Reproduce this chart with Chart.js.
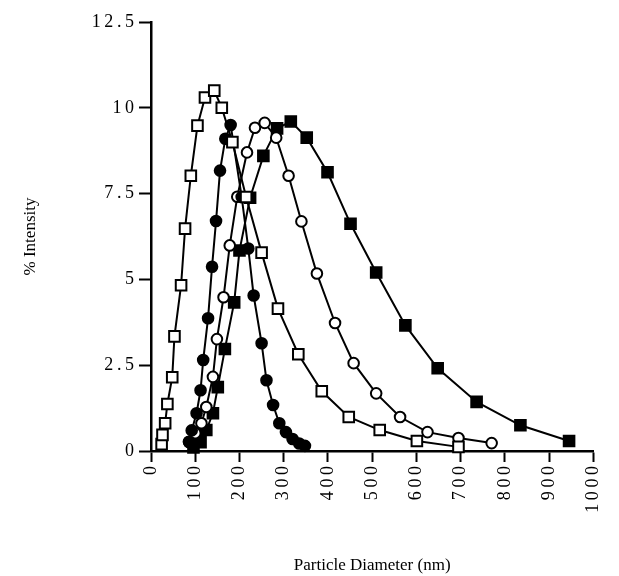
<!DOCTYPE html>
<html>
<head>
<meta charset="utf-8">
<script src="https://cdn.jsdelivr.net/npm/chart.js@4/dist/chart.umd.min.js"></script>
<style>
  html, body { margin: 0; padding: 0; background: #fff; }
  #wrap { width: 619px; height: 576px; }
</style>
</head>
<body>
<div id="wrap"><canvas id="sizeChart"></canvas></div>
<script>
// tick values
const xTicks = [0, 100, 200, 300, 400, 500, 600, 700, 800, 900, 1000];
const yTicks = [0, 2.5, 5, 7.5, 10, 12.5];

// open squares (narrowest, leftmost distribution)
const openSquareX = [24, 26, 32, 37, 48, 53, 68, 77, 90, 105, 122, 143, 160, 184, 215, 250, 287, 333, 386, 447, 517, 601, 695];
const openSquareY = [0.2, 0.47, 0.81, 1.37, 2.15, 3.34, 4.83, 6.48, 8.02, 9.48, 10.3, 10.5, 10.0, 9.0, 7.4, 5.78, 4.15, 2.82, 1.74, 0.99, 0.61, 0.29, 0.12];

// filled circles
const filledCircleX = [86, 92, 103, 112, 118, 129, 138, 147, 156, 168, 180, 205, 220, 232, 250, 261, 276, 290, 305, 320, 335, 348];
const filledCircleY = [0.27, 0.6, 1.1, 1.77, 2.65, 3.87, 5.37, 6.7, 8.17, 9.1, 9.5, 7.4, 5.9, 4.53, 3.14, 2.06, 1.34, 0.81, 0.55, 0.35, 0.22, 0.15];

// open circles
const openCircleX = [86, 100, 114, 125, 140, 149, 164, 178, 195, 217, 235, 257, 283, 311, 340, 375, 416, 458, 509, 563, 625, 695, 770];
const openCircleY = [0.26, 0.52, 0.81, 1.28, 2.16, 3.26, 4.48, 5.99, 7.41, 8.7, 9.42, 9.56, 9.13, 8.02, 6.69, 5.17, 3.73, 2.56, 1.68, 0.99, 0.55, 0.38, 0.23];

// filled squares (broadest distribution)
const filledSquareX = [96, 112, 125, 140, 151, 167, 188, 200, 224, 254, 285, 316, 352, 399, 451, 509, 575, 648, 736, 835, 945];
const filledSquareY = [0.1, 0.26, 0.61, 1.1, 1.86, 2.97, 4.33, 5.84, 7.38, 8.6, 9.4, 9.6, 9.13, 8.12, 6.62, 5.2, 3.66, 2.41, 1.43, 0.75, 0.29];

function pairs(xs, ys) {
  return xs.map((x, i) => ({ x: x, y: ys[i] }));
}

function spaced(v) {
  return String(v).split("").join("\u2009");
}

function series(xs, ys, style, fill) {
  return {
    data: pairs(xs, ys),
    borderColor: "#000",
    borderWidth: 2,
    pointStyle: style,
    pointRadius: style === "rect" ? 7.5 : 5.3,
    pointBackgroundColor: fill,
    pointBorderColor: "#000",
    pointBorderWidth: 2,
    tension: 0,
    clip: false
  };
}

const serif = "'Liberation Serif', 'DejaVu Serif', serif";

new Chart(document.getElementById("sizeChart"), {
  type: "line",
  data: {
    datasets: [
      series(openSquareX, openSquareY, "rect", "#fff"),
      series(filledCircleX, filledCircleY, "circle", "#000"),
      series(openCircleX, openCircleY, "circle", "#fff"),
      series(filledSquareX, filledSquareY, "rect", "#000")
    ]
  },
  options: {
    responsive: true,
    maintainAspectRatio: false,
    animation: false,
    layout: { padding: { left: 0, right: 13, top: 22, bottom: 0 } },
    plugins: {
      legend: { display: false },
      tooltip: { enabled: false }
    },
    scales: {
      x: {
        type: "linear",
        min: 0,
        max: 1000,
        afterFit: s => { s.height = 125; },
        afterBuildTicks: s => { s.ticks = xTicks.map(v => ({ value: v })); },
        border: { display: true, color: "#000", width: 2.5 },
        grid: { drawOnChartArea: false, drawTicks: true, tickLength: 11, tickColor: "#000", tickWidth: 2 },
        ticks: {
          autoSkip: false,
          minRotation: 90,
          maxRotation: 90,
          padding: 4,
          color: "#000",
          font: { family: serif, size: 18 },
          callback: v => spaced(v)
        },
        title: {
          display: true,
          text: "Particle Diameter (nm)",
          color: "#000",
          font: { family: serif, size: 17 },
          padding: { top: 0, bottom: 0 }
        }
      },
      y: {
        type: "linear",
        min: 0,
        max: 12.5,
        afterFit: s => { s.width = 151; },
        afterBuildTicks: s => { s.ticks = yTicks.map(v => ({ value: v })); },
        border: { display: true, color: "#000", width: 2.5 },
        grid: { drawOnChartArea: false, drawTicks: true, tickLength: 12, tickColor: "#000", tickWidth: 2 },
        ticks: {
          padding: 5,
          color: "#000",
          font: { family: serif, size: 18 },
          callback: v => spaced(v)
        },
        title: {
          display: true,
          text: "% Intensity",
          color: "#000",
          font: { family: serif, size: 17 },
          padding: { top: 20, bottom: 0 }
        }
      }
    }
  }
});
</script>
</body>
</html>
